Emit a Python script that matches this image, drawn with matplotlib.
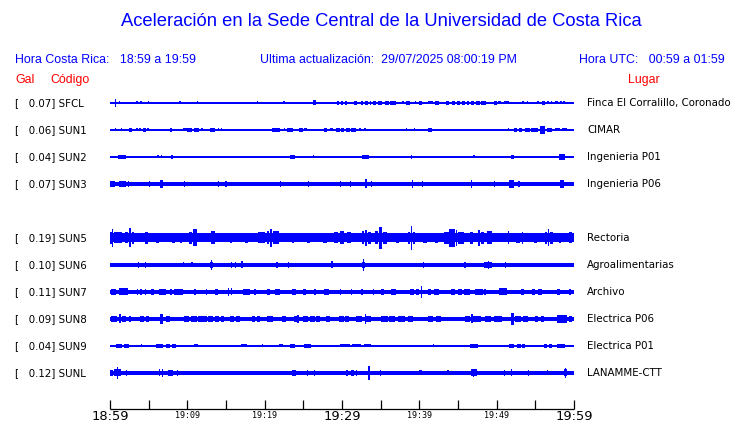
import matplotlib
matplotlib.use("Agg")
import matplotlib.pyplot as plt

# ---------------- data ----------------
title = "Aceleración en la Sede Central de la Universidad de Costa Rica"
hdr_local = "Hora Costa Rica:   18:59 a 19:59"
hdr_update = "Ultima actualización:  29/07/2025 08:00:19 PM"
hdr_utc = "Hora UTC:   00:59 a 01:59"

codes = ["SFCL", "SUN1", "SUN2", "SUN3", "SUN5", "SUN6", "SUN7", "SUN8", "SUN9", "SUNL"]
gal = [0.07, 0.06, 0.04, 0.07, 0.19, 0.10, 0.11, 0.09, 0.04, 0.12]
places = ["Finca El Corralillo, Coronado", "CIMAR", "Ingenieria P01", "Ingenieria P06",
          "Rectoria", "Agroalimentarias", "Archivo", "Electrica P06", "Electrica P01",
          "LANAMME-CTT"]
slots = [0, 1, 2, 3, 5, 6, 7, 8, 9, 10]   # SUN4 slot is empty

# background half-amplitude of each trace (pixel units)
base_amp = [0.6, 0.6, 0.6, 1.9, 4.5, 1.7, 1.6, 2.0, 0.6, 2.0]

# bursts: (start minute, end minute, half amplitude)
SFCL_ev = [(0.69, 0.69, 3.7), (1.2, 1.2, 1.5), (3.5, 3.5, 1.5), (4.0, 4.0, 1.5), (4.96, 4.96, 1.5),
           (9.05, 9.05, 1.5), (11.3, 11.3, 1.5), (17.0, 17.0, 1.2), (19.05, 19.05, 1.5),
           (19.96, 19.96, 1.2), (22.5, 22.5, 1.5), (24.3, 24.3, 1.2), (25.0, 25.0, 1.2),
           (26.2, 26.6, 2.5), (29.3, 29.6, 1.7), (29.9, 30.1, 1.7), (30.4, 30.7, 1.7),
           (31.5, 32.0, 1.7), (32.4, 32.7, 1.7), (33.0, 33.3, 1.7), (33.6, 33.8, 1.7),
           (34.0, 34.4, 1.7), (34.6, 35.2, 1.7), (35.5, 36.1, 1.7), (36.2, 37.0, 2.2),
           (37.7, 38.0, 1.5), (38.3, 38.8, 1.7), (39.4, 39.6, 1.5), (39.9, 40.3, 1.7),
           (41.1, 41.8, 1.5), (42.0, 42.6, 2.3), (43.5, 43.9, 2.0), (44.2, 44.6, 1.7),
           (44.9, 45.2, 1.7), (45.5, 45.9, 1.7), (46.1, 46.4, 1.7), (46.7, 47.1, 1.7),
           (47.3, 47.8, 2.2), (48.0, 48.6, 2.2), (49.6, 50.0, 1.7), (50.2, 50.5, 1.5),
           (50.9, 51.6, 1.5), (53.4, 53.4, 1.5), (54.0, 54.0, 1.5), (55.2, 55.5, 1.5),
           (55.8, 56.2, 1.7), (56.5, 56.8, 1.5), (57.0, 57.2, 1.5), (57.6, 57.9, 1.5),
           (58.2, 58.4, 1.5), (58.6, 58.9, 1.5)]
SUN1_ev = [(0.05, 0.05, 1.2), (0.7, 0.7, 1.5), (1.1, 1.1, 1.2), (1.5, 1.5, 1.5), (2.4, 2.9, 1.7),
           (3.5, 3.5, 1.5), (3.8, 4.0, 1.5), (4.3, 4.6, 1.7), (4.9, 4.9, 1.5), (6.0, 6.0, 1.2),
           (7.9, 7.9, 1.7), (9.0, 9.0, 1.2), (9.5, 9.9, 1.5), (10.0, 10.6, 2.0), (10.8, 11.5, 2.0),
           (11.9, 11.9, 1.5), (12.9, 13.6, 2.0), (13.99, 13.99, 1.5), (14.4, 14.4, 1.5),
           (17.8, 17.8, 1.2), (21.0, 22.0, 2.0), (22.6, 22.6, 1.5), (22.9, 23.7, 1.7),
           (24.4, 24.9, 1.7), (25.1, 25.5, 1.5), (25.8, 25.8, 1.2), (26.1, 26.1, 1.2),
           (27.7, 28.1, 1.7), (28.4, 28.9, 1.5), (29.2, 29.7, 1.7), (29.9, 30.3, 1.7),
           (30.5, 31.0, 2.0), (31.1, 31.8, 2.3), (32.2, 32.4, 1.5), (32.8, 33.1, 1.5),
           (38.3, 38.3, 1.5), (39.4, 39.4, 1.5), (41.1, 41.6, 1.7), (45.5, 45.5, 1.2),
           (46.9, 46.9, 1.2), (51.5, 51.5, 1.5), (52.2, 52.6, 1.7), (52.9, 53.3, 1.7),
           (53.7, 54.3, 1.7), (54.5, 55.4, 2.0), (55.6, 56.3, 3.8), (56.5, 57.2, 1.7),
           (57.5, 58.2, 1.5), (58.5, 59.1, 1.5)]
SUN2_ev = [(0.56, 0.56, 1.2), (1.0, 2.1, 2.0), (2.7, 2.7, 1.2), (6.2, 6.2, 1.5), (6.7, 6.7, 1.5),
           (7.9, 8.1, 2.0), (11.3, 11.3, 1.2), (21.2, 21.2, 1.2), (22.3, 22.3, 1.2),
           (23.3, 23.9, 1.7), (26.3, 26.3, 1.5), (29.7, 29.7, 1.2), (30.7, 30.7, 1.2),
           (31.1, 31.1, 1.2), (32.6, 33.5, 2.0), (33.8, 33.8, 1.2), (39.0, 39.0, 2.0),
           (46.3, 46.3, 1.2), (46.9, 47.2, 1.5), (51.6, 51.6, 1.2), (51.9, 52.2, 2.0),
           (56.0, 56.0, 1.2), (56.6, 56.6, 1.2), (58.0, 58.9, 2.7)]
SUN3_ev = [(0.0, 0.7, 2.6), (1.2, 2.1, 3.0), (2.4, 2.4, 2.8), (5.1, 5.1, 3.0), (6.5, 6.9, 4.0),
           (9.6, 9.6, 3.0), (14.0, 14.0, 2.8), (15.0, 15.0, 3.4), (22.0, 22.0, 3.0),
           (25.7, 25.7, 2.8), (29.8, 29.8, 3.4), (31.1, 31.1, 3.0), (33.0, 33.2, 4.5),
           (33.8, 33.8, 3.4), (39.1, 39.1, 3.6), (40.4, 40.4, 3.0), (46.7, 46.7, 3.6),
           (49.7, 49.7, 3.0), (51.6, 52.2, 3.6), (52.9, 52.9, 3.0), (58.2, 58.7, 4.2)]
SUN5_ev = [(0.0, 0.2, 6.0), (0.3, 0.3, 8.7), (0.5, 1.5, 5.5), (2.0, 2.3, 5.5), (2.6, 2.6, 9.5),
           (2.8, 3.1, 6.0), (4.5, 4.9, 6.0), (6.0, 6.3, 5.0), (8.0, 8.4, 5.0), (9.0, 9.3, 5.0),
           (10.2, 10.6, 6.0), (10.7, 11.2, 8.5), (13.1, 13.6, 6.5), (15.5, 15.8, 5.0),
           (17.5, 17.8, 5.0), (19.2, 20.0, 5.5), (20.3, 20.6, 6.5), (20.7, 21.0, 9.3),
           (21.1, 21.8, 6.5), (23.5, 23.8, 5.0), (25.5, 25.8, 5.0), (27.5, 28.1, 5.0),
           (29.0, 29.5, 5.5), (29.8, 30.3, 6.5), (30.6, 31.2, 5.5), (32.6, 32.9, 6.5),
           (33.1, 33.1, 8.0), (33.3, 33.8, 6.0), (34.3, 34.7, 6.5), (34.8, 35.2, 11.0),
           (35.3, 35.8, 6.0), (37.0, 37.4, 5.0), (38.5, 38.8, 6.0), (39.0, 39.0, 12.3),
           (39.2, 39.5, 6.0), (40.5, 41.0, 5.0), (42.0, 42.4, 5.0), (43.2, 43.8, 6.0),
           (43.9, 44.6, 9.0), (44.8, 44.8, 8.0), (45.0, 45.8, 6.0), (46.5, 47.0, 6.0),
           (47.6, 47.8, 8.0), (48.0, 48.4, 6.0), (48.8, 49.4, 6.5), (51.5, 51.5, 6.5),
           (52.5, 53.0, 5.0), (53.3, 53.3, 6.0), (54.8, 55.2, 5.0), (56.2, 56.5, 6.0),
           (56.7, 56.7, 8.5), (56.9, 57.3, 6.0), (58.0, 58.3, 5.0), (59.3, 59.7, 5.5)]
SUN6_ev = [(3.7, 3.7, 2.6), (4.6, 4.6, 2.6), (6.6, 6.6, 2.4), (9.5, 9.5, 2.5), (10.0, 10.0, 2.3),
           (10.6, 10.6, 2.5), (11.3, 11.3, 2.3), (12.9, 13.3, 3.0), (13.1, 13.1, 5.0),
           (15.7, 15.7, 2.6), (16.2, 16.2, 2.6), (17.0, 17.2, 3.5), (18.5, 18.5, 2.4),
           (21.6, 21.6, 2.6), (23.1, 23.1, 2.6), (28.6, 28.9, 3.5), (30.0, 30.0, 2.4),
           (32.0, 32.0, 2.4), (32.6, 33.0, 3.0), (32.8, 32.8, 6.3), (35.2, 35.2, 2.4),
           (37.5, 37.5, 2.4), (40.5, 40.5, 2.6), (41.0, 41.0, 2.4), (42.4, 42.4, 2.4),
           (45.9, 45.9, 2.6), (48.3, 49.4, 2.6), (48.9, 48.9, 4.0), (51.1, 51.1, 3.0),
           (53.1, 53.1, 2.4), (55.9, 55.9, 2.4), (57.4, 57.4, 2.4)]
SUN7_ev = [(0.1, 0.8, 3.0), (1.2, 2.3, 3.5), (3.6, 3.6, 2.8), (4.0, 4.0, 2.8), (4.6, 4.6, 2.8),
           (5.3, 5.7, 2.8), (6.4, 7.2, 3.0), (7.9, 7.9, 2.8), (8.3, 9.4, 3.3), (11.0, 11.0, 2.8),
           (12.5, 12.5, 2.8), (13.6, 14.0, 3.0), (15.3, 15.3, 4.2), (15.7, 15.7, 3.5),
           (17.2, 18.1, 3.0), (18.75, 18.75, 2.8), (20.3, 20.7, 3.0), (21.3, 22.0, 3.0),
           (23.5, 23.9, 3.0), (24.0, 24.0, 2.8), (24.9, 25.3, 2.8), (26.5, 26.5, 3.2),
           (27.7, 28.3, 3.0), (29.8, 29.8, 2.8), (31.2, 31.2, 2.8), (32.6, 32.6, 2.8),
           (34.1, 34.1, 2.8), (35.0, 35.4, 3.0), (36.4, 37.0, 3.0), (38.8, 39.3, 3.0),
           (39.6, 40.0, 3.0), (40.3, 40.3, 6.0), (41.1, 41.5, 3.0), (41.9, 42.6, 3.0),
           (44.1, 44.6, 3.0), (45.0, 45.5, 3.0), (45.8, 46.5, 3.0), (47.2, 48.2, 2.8),
           (48.3, 48.6, 2.8), (50.3, 51.3, 3.5), (53.2, 53.5, 3.0), (54.6, 55.0, 3.0),
           (55.3, 55.9, 3.0), (57.8, 58.2, 3.0), (59.4, 59.6, 2.8)]
SUN8_ev = [(0.1, 0.9, 3.3), (1.2, 1.4, 4.5), (1.5, 2.1, 3.3), (2.4, 2.7, 2.8), (3.9, 4.4, 3.0),
           (4.6, 5.0, 3.0), (6.5, 6.8, 5.0), (7.2, 7.8, 2.8), (9.6, 10.2, 2.8), (10.5, 11.2, 2.8),
           (11.4, 12.5, 3.0), (12.7, 13.3, 3.0), (13.6, 14.1, 3.0), (14.3, 14.7, 3.0),
           (15.5, 16.0, 3.0), (16.3, 16.8, 3.0), (18.3, 18.8, 3.0), (19.0, 19.4, 3.0),
           (20.3, 21.1, 2.8), (22.2, 22.8, 3.0), (23.8, 24.3, 3.0), (24.3, 24.3, 4.0),
           (24.9, 25.6, 3.0), (25.9, 26.5, 3.0), (26.7, 27.2, 3.0), (27.9, 28.5, 2.8),
           (29.6, 30.2, 3.0), (30.4, 30.9, 3.0), (31.8, 32.6, 3.3), (33.0, 33.0, 5.0),
           (33.1, 33.7, 3.3), (35.0, 35.9, 2.8), (36.1, 36.9, 3.0), (37.2, 38.2, 3.0),
           (38.5, 39.2, 3.0), (41.1, 41.8, 2.8), (42.1, 42.8, 2.8), (45.9, 46.6, 3.3),
           (46.8, 46.8, 4.5), (47.0, 48.0, 3.3), (48.5, 49.3, 3.0), (49.6, 50.7, 3.0),
           (51.8, 52.2, 6.0), (52.4, 53.1, 3.0), (53.4, 54.1, 3.0), (54.9, 55.4, 2.8),
           (55.7, 56.1, 2.8), (57.8, 59.1, 3.8), (59.3, 59.8, 2.8)]
SUN9_ev = [(0.0, 0.4, 1.3), (0.8, 1.6, 1.7), (1.8, 2.5, 1.7), (3.2, 3.2, 1.3), (3.5, 3.9, 1.3),
           (4.0, 4.2, 1.5), (5.1, 5.1, 1.3), (5.9, 6.8, 2.0), (7.2, 7.7, 1.7), (8.0, 8.5, 1.7),
           (9.6, 9.6, 1.3), (10.9, 11.4, 1.5), (11.99, 11.99, 1.3), (12.9, 13.1, 1.3),
           (15.5, 15.5, 1.3), (15.9, 15.9, 1.3), (17.0, 17.7, 1.5), (18.5, 18.5, 1.3),
           (19.6, 19.8, 1.5), (20.4, 20.6, 1.3), (21.8, 22.4, 1.5), (23.3, 23.9, 1.7),
           (24.0, 24.6, 1.3), (25.1, 26.0, 1.7), (27.3, 27.3, 1.3), (29.0, 29.0, 1.3),
           (29.8, 31.0, 1.5), (31.3, 32.5, 1.5), (32.8, 33.7, 1.5), (34.1, 34.1, 1.3),
           (35.0, 35.0, 1.3), (36.7, 37.3, 1.3), (39.0, 39.0, 1.3), (41.8, 41.8, 1.5),
           (45.6, 46.0, 1.3), (46.5, 47.6, 1.7), (48.5, 49.1, 1.3), (51.6, 52.3, 1.7),
           (52.6, 53.1, 1.7), (53.3, 53.7, 1.7), (54.5, 54.5, 1.3), (56.1, 56.5, 1.7),
           (56.8, 57.2, 1.7), (57.8, 58.9, 2.0)]
SUNL_ev = [(0.0, 0.4, 2.7), (0.56, 1.4, 3.5), (1.0, 1.0, 5.7), (2.1, 2.1, 3.0), (6.4, 6.4, 3.5),
           (6.8, 6.8, 4.0), (7.5, 8.1, 2.8), (8.75, 8.75, 2.7), (23.5, 24.05, 3.0),
           (25.5, 25.5, 2.7), (26.4, 26.4, 2.7), (30.5, 30.8, 2.7), (31.2, 31.5, 2.7),
           (31.8, 32.0, 2.7), (33.5, 33.5, 7.0), (35.0, 35.0, 2.7), (40.0, 40.3, 2.5),
           (43.7, 43.7, 2.5), (46.7, 47.4, 3.5), (47.0, 47.0, 4.0), (50.9, 51.1, 3.0),
           (51.9, 51.9, 3.5), (54.1, 54.1, 2.7), (56.6, 56.6, 2.5), (58.7, 59.1, 3.5),
           (58.9, 58.9, 4.7)]
events = [SFCL_ev, SUN1_ev, SUN2_ev, SUN3_ev, SUN5_ev, SUN6_ev, SUN7_ev, SUN8_ev, SUN9_ev, SUNL_ev]

tick_minutes = [0, 5, 10, 15, 20, 25, 30, 35, 40, 45, 50, 55, 60]
major_ticks = [0, 30, 60]
major_labels = ["18:59", "19:29", "19:59"]
minor_ticks = [10, 20, 40, 50]
minor_labels = ["19:09", "19:19", "19:39", "19:49"]

# ---------------- layout ----------------
W, H = 740, 423
X0, X1 = 110, 574            # pixel span of the 60-minute window
ppm = (X1 - X0) / 60.0
ROW0, ROWSTEP = 103, 27
AXIS_Y = 409
BLUE = "#0000FF"
RED = "#FF0000"

fig = plt.figure(figsize=(W / 100, H / 100), dpi=100)
ax = fig.add_axes([0, 0, 1, 1])
ax.set_xlim(-X0 / ppm, (W - X0) / ppm)
ax.set_ylim(H, 0)
ax.axis("off")


def px(xp):
    return (xp - X0) / ppm


HEL = ["Liberation Sans", "DejaVu Sans"]
DV = ["DejaVu Sans"]
HFS = 8.9

ax.text(px(381), 22, title, family=HEL, fontsize=13.2, color=BLUE, ha="center", va="center")
ax.text(px(15), 60, hdr_local, family=HEL, fontsize=HFS, color=BLUE, ha="left", va="center")
ax.text(px(260), 60, hdr_update, family=HEL, fontsize=HFS, color=BLUE, ha="left", va="center")
ax.text(px(725), 60, hdr_utc, family=HEL, fontsize=HFS, color=BLUE, ha="right", va="center")
ax.text(px(15), 80, "Gal", family=HEL, fontsize=HFS, color=RED, ha="left", va="center")
ax.text(px(50), 80, "Código", family=HEL, fontsize=HFS, color=RED, ha="left", va="center")
ax.text(px(628), 80, "Lugar", family=HEL, fontsize=HFS, color=RED, ha="left", va="center")

for code, g, place, slot, base, evs in zip(codes, gal, places, slots, base_amp, events):
    y = ROW0 + ROWSTEP * slot
    ax.fill_between([0, 60], y - base, y + base, color=BLUE, lw=0)
    for t0, t1, h in evs:
        w = max(t1 - t0, 0.16)
        ax.bar((t0 + t1) / 2, 2 * h, width=w, bottom=y - h, color=BLUE, lw=0)
    ax.text(px(15), y, f"[   {g:.2f}] {code}", family=DV, fontsize=7.4, color="black",
            ha="left", va="center")
    ax.text(px(587), y, place, family=DV, fontsize=7.4, color="black", ha="left", va="center")

# time axis
ax.plot([0, 60], [AXIS_Y, AXIS_Y], color="black", lw=0.9, solid_capstyle="butt")
ax.vlines(tick_minutes, AXIS_Y - 9, AXIS_Y, color="black", lw=0.9)
for t, lab in zip(major_ticks, major_labels):
    ax.text(t, 416.5, lab, family=["DejaVu Sans"], fontsize=9.4, color="black",
            ha="center", va="center")
for t, lab in zip(minor_ticks, minor_labels):
    ax.text(t, 416, lab, family=["DejaVu Sans Mono"], fontsize=6.0, color="black",
            ha="center", va="center")

fig.savefig("out.png", dpi=100)
